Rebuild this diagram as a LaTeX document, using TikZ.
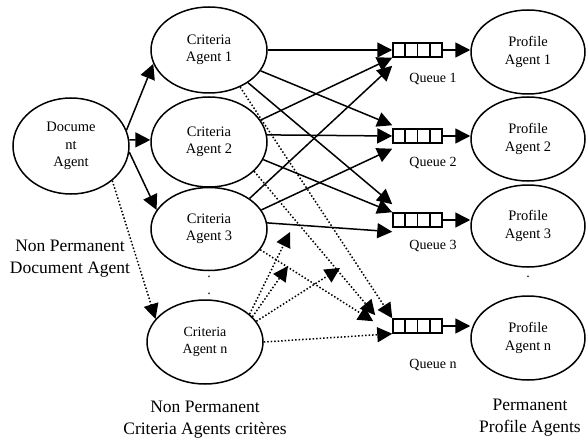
\documentclass[tikz,border=0pt]{standalone}
\usepackage{fontspec}
\setmainfont{Liberation Serif}
\usepackage{tikz}
\usetikzlibrary{shapes.geometric,arrows.meta,positioning,calc}

\begin{document}
\begin{tikzpicture}[x=1pt, y=-1pt,
    agent/.style = {draw, ellipse, line width=1.5pt, minimum width=116pt, minimum height=86pt,
                    inner sep=0pt, align=center, font=\fontsize{14.5}{17.5}\selectfont},
    queue/.style = {draw, line width=1.5pt, minimum width=49pt, minimum height=14pt, inner sep=0pt},
    link/.style = {line width=1.5pt, -{Triangle[length=15pt,width=15pt]}},
    maybe/.style = {link, dotted},
    small/.style = {font=\fontsize{14}{17}\selectfont},
    caption/.style = {align=center, font=\fontsize{17.5}{22}\selectfont}]
      \useasboundingbox (0,0) rectangle (586,441);

      % agents
      \node[agent, minimum height=96pt] (doc) at (71,146) {Docume\\nt\\Agent};
      \node[agent] (c1) at (209,50) {Criteria\\Agent 1};
      \node[agent, minimum height=90pt] (c2) at (209,142) {Criteria\\Agent 2};
      \node[agent, minimum height=83pt] (c3) at (209,229) {Criteria\\Agent 3};
      \node[agent, minimum height=84pt, small] (cn) at (205,342) {Criteria\\Agent n};
      \node[small] (d1) at (209,277) {.};
      \node[small] (d2) at (209,294) {.};

      \node[agent, minimum width=114pt, minimum height=84pt] (p1) at (528,52) {Profile\\Agent 1};
      \node[agent, minimum width=114pt, minimum height=84pt] (p2) at (528,139) {Profile\\Agent 2};
      \node[agent, minimum width=114pt, minimum height=82pt] (p3) at (528,226) {Profile\\Agent 3};
      \node[agent, minimum width=114pt, minimum height=84pt] (pn) at (528,338) {Profile\\Agent n};
      \node[small] (d3) at (528,277) {.};

      % queues
      \node[queue] (q1) at (417.5,50) {};
      \node[queue] (q2) at (417.5,136) {};
      \node[queue] (q3) at (417.5,220) {};
      \node[queue] (qn) at (417.5,326) {};
      \foreach \q in {q1,q2,q3,qn}
        \foreach \k in {1,2,3}
          \draw[line width=1.5pt] ($(\q.south west)!\k/4!(\q.south east)$) -- ($(\q.north west)!\k/4!(\q.north east)$);
      \node[small] (l1) at (433,79) {Queue 1};
      \node[small] (l2) at (433,163) {Queue 2};
      \node[small] (l3) at (433,246) {Queue 3};
      \node[small] (ln) at (433,365) {Queue n};

      % captions
      \node[caption] (docl) at (70,259) {Non Permanent\\Document Agent};
      \node[caption] (critl) at (205,420) {Non Permanent\\Criteria Agents critères};
      \node[caption] (profl) at (530,418) {Permanent\\Profile Agents};

      \coordinate (f1) at (290,232);
      \coordinate (f2) at (288,266);
      \coordinate (f3) at (340,268);

      \draw[link] (doc.16) -- (c1.194);
      \draw[link] (doc.6) -- (c2.178);
      \draw[link] (doc.-6) -- (c3.160);
      \draw[maybe] (doc.-40) -- (cn.155);

      \draw[link] (c1.east) -- (q1.west);
      \draw[link] (c1.-22) -- ([yshift=3pt]q2.north west);
      \draw[link] (c1.-40) -- ([yshift=8pt]q3.north west);
      \draw[maybe] (c1.-50) -- (qn.north west);

      \draw[link] (c2.23) -- (q1.south west);
      \draw[link] (c2.7) -- (q2.west);
      \draw[link] (c2.-18) -- (q3.north west);
      \draw[maybe] (c2.-33) -- ([xshift=-17pt,yshift=3pt]qn.north west);

      \draw[link] (c3.37) -- ([yshift=-8pt]q1.south west);
      \draw[link] (c3.20) -- ([yshift=-5pt]q2.south west);
      \draw[link] (c3.6) -- ([yshift=-4pt]q3.south west);
      \draw[maybe] (c3.-22) -- ([xshift=-19pt,yshift=-3pt]qn.north west);

      \draw[maybe] (cn.east) -- (qn.south west);
      \draw[maybe] (cn.32) -- (f1);
      \draw[maybe] (cn.28) -- (f2);
      \draw[maybe] (cn.22) -- (f3);

      \draw[link] (q1.east) -- (q1.east -| p1.west);
      \draw[link] (q2.east) -- (q2.east -| p2.west);
      \draw[link] (q3.east) -- (q3.east -| p3.west);
      \draw[link] (qn.east) -- (qn.east -| pn.west);
    \end{tikzpicture}
\end{document}
